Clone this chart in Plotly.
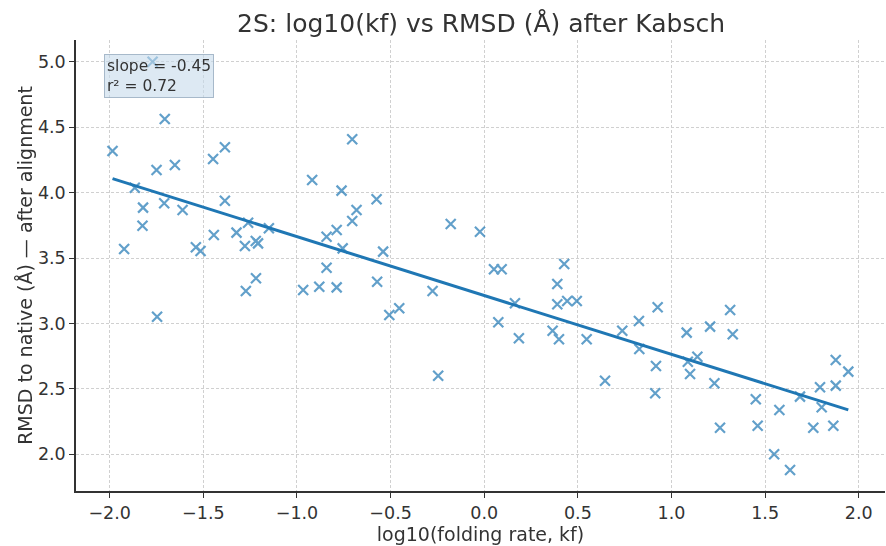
import numpy as np
import plotly.graph_objects as go

log_kf = [-1.771, -1.706, -1.985, -1.866, -1.750, -1.652, -1.448, -1.385, -1.822, -1.709,
          -1.611, -1.385, -1.825, -1.923, -1.540, -1.515, -1.444, -1.323, -1.261, -1.278,
          -1.220, -1.208, -1.150, -0.919, -0.762, -0.842, -0.788, -0.756, -0.842, -0.705,
          -1.273, -1.219, -1.747, -0.967, -0.881, -0.788, -0.575, -0.682, -0.705, -0.540,
          -0.572, -0.507, -0.454, -0.276, -0.246, -0.179, -0.023, 0.052, 0.093, 0.075,
          0.164, 0.185, 0.365, 0.399, 0.390, 0.427, 0.390, 0.443, 0.494, 0.547,
          0.645, 0.737, 0.826, 0.828, 0.926, 0.917, 0.913, 1.081, 1.087, 1.138,
          1.099, 1.206, 1.229, 1.259, 1.313, 1.327, 1.450, 1.460, 1.548, 1.576,
          1.633, 1.686, 1.757, 1.793, 1.802, 1.864, 1.877, 1.877, 1.944]
rmsd = [5.000, 4.562, 4.318, 4.037, 4.173, 4.211, 4.257, 4.346, 3.885, 3.918,
        3.867, 3.938, 3.747, 3.569, 3.582, 3.554, 3.676, 3.694, 3.770, 3.592,
        3.630, 3.612, 3.727, 4.096, 4.015, 3.663, 3.714, 3.574, 3.426, 4.407,
        3.248, 3.345, 3.052, 3.256, 3.281, 3.276, 3.949, 3.867, 3.783, 3.549,
        3.319, 3.065, 3.116, 3.248, 2.601, 3.760, 3.701, 3.414, 3.414, 3.009,
        3.154, 2.887, 2.945, 2.879, 3.302, 3.455, 3.147, 3.172, 3.172, 2.879,
        2.563, 2.945, 3.019, 2.805, 3.124, 2.675, 2.467, 2.930, 2.708, 2.746,
        2.614, 2.976, 2.543, 2.204, 3.103, 2.917, 2.421, 2.219, 2.001, 2.339,
        1.881, 2.441, 2.204, 2.513, 2.360, 2.219, 2.525, 2.721, 2.632]

x_ticks = [-2.0, -1.5, -1.0, -0.5, 0.0, 0.5, 1.0, 1.5, 2.0]
y_ticks = [2.0, 2.5, 3.0, 3.5, 4.0, 4.5, 5.0]
stats_text = "slope = -0.45<br>r² = 0.72"

xa = np.array(log_kf)
ya = np.array(rmsd)
slope, intercept = np.polyfit(xa, ya, 1)
fit_x = np.array([xa.min(), xa.max()])
fit_y = slope * fit_x + intercept

FONT = "DejaVu Sans"
DARK = "#333333"

fig = go.Figure()
fig.add_trace(go.Scatter(
    x=log_kf, y=rmsd, mode="markers",
    marker=dict(symbol="x-thin", size=10, color="#1f77b4",
                line=dict(width=2.2, color="#1f77b4")),
    opacity=0.7, showlegend=False, hoverinfo="skip"))
fig.add_trace(go.Scatter(
    x=fit_x, y=fit_y, mode="lines",
    line=dict(color="#1f77b4", width=3), showlegend=False, hoverinfo="skip"))

axis_common = dict(
    showline=True, linecolor=DARK, linewidth=1.5, mirror=False,
    ticks="outside", ticklen=5, tickwidth=1, tickcolor=DARK,
    showgrid=True, gridcolor="#d0d0d0", gridwidth=0.8, griddash="3px,2px",
    zeroline=False, tickfont=dict(family=FONT, size=17.5, color=DARK),
    tickformat=".1f",
)

fig.update_xaxes(range=[-2.18, 2.14], tickvals=x_ticks,
                 title=dict(text="log10(folding rate, kf)", font=dict(family=FONT, size=19, color=DARK), standoff=2),
                 **axis_common)
fig.update_yaxes(range=[1.72, 5.166], tickvals=y_ticks,
                 title=dict(text="RMSD to native (Å) — after alignment", font=dict(family=FONT, size=19, color=DARK), standoff=0),
                 **axis_common)

fig.add_annotation(
    xref="paper", yref="paper", x=0.034, y=0.968, xanchor="left", yanchor="top",
    text=stats_text, showarrow=False, align="left",
    font=dict(family=FONT, size=15.5, color=DARK),
    bgcolor="rgba(198,218,235,0.6)", bordercolor="rgba(150,170,190,0.8)",
    borderwidth=1, borderpad=2)

fig.update_layout(
    width=886, height=546,
    margin=dict(l=76, r=1, t=40, b=55),
    paper_bgcolor="white", plot_bgcolor="white",
    title=dict(text="2S: log10(kf) vs RMSD (Å) after Kabsch", x=0.543, xanchor="center",
               y=0.958, yanchor="middle", font=dict(family=FONT, size=25, color=DARK)),
    font=dict(family=FONT),
)

fig.write_html("out.html")
